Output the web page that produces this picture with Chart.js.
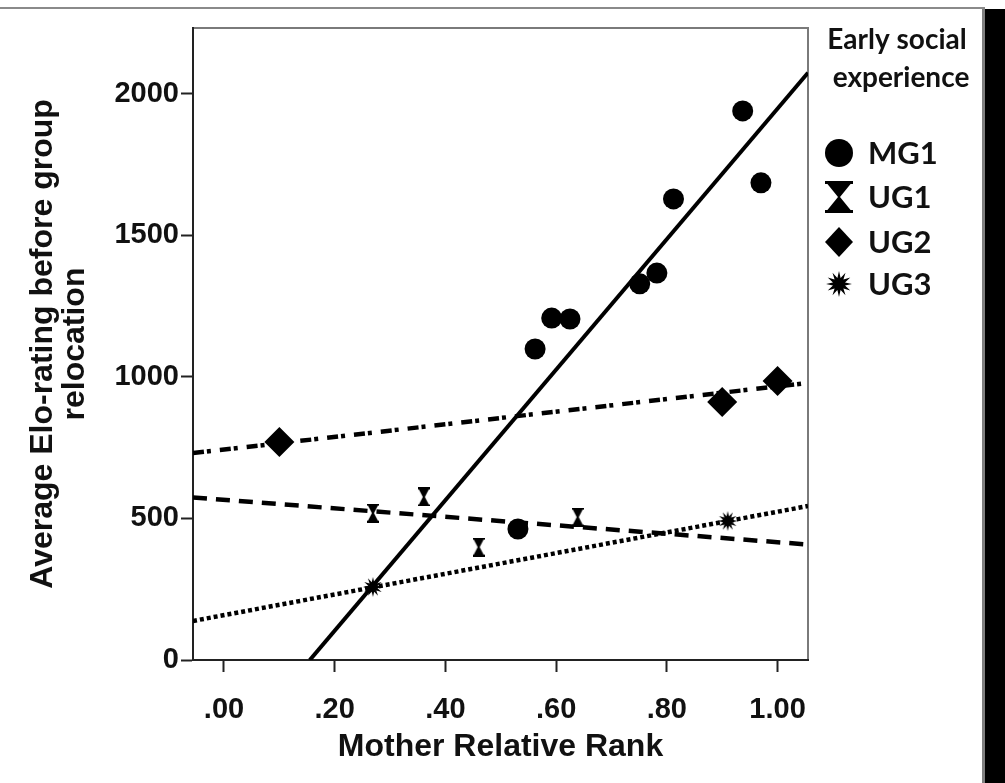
<!DOCTYPE html>
<html><head><meta charset="utf-8">
<script src="https://cdn.jsdelivr.net/npm/chart.js@4.4.1/dist/chart.umd.min.js"></script>
<style>
html,body{margin:0;padding:0;background:#fff;}
#wrap{position:relative;width:1005px;height:783px;overflow:hidden;background:#fff;}
#c{position:absolute;left:0;top:0;}
.topline{position:absolute;left:0;top:7px;width:985px;height:2px;background:#8a8a8a;}
.rightgray{position:absolute;left:982px;top:9px;width:3px;height:774px;background:#808080;}
.rightblack{position:absolute;left:985px;top:9px;width:20px;height:774px;background:#000;}
</style></head><body>
<div id="wrap"><canvas id="c" width="1005" height="783"></canvas><div class="topline"></div><div class="rightgray"></div><div class="rightblack"></div></div>
<script>
// ---- data ----
const groups = ['MG1', 'UG1', 'UG2', 'UG3'];
const legendTitle = ['Early social', 'experience'];
const xTitle = 'Mother Relative Rank';
const yTitle = ['Average Elo-rating before group', 'relocation'];

const mg1X = [0.531, 0.562, 0.592, 0.625, 0.751, 0.782, 0.812, 0.937, 0.970];
const mg1Y = [463, 1099, 1208, 1205, 1329, 1367, 1629, 1940, 1686];
const ug1X = [0.269, 0.361, 0.460, 0.639];
const ug1Y = [519, 576, 399, 505];
const ug2X = [0.10, 0.90, 1.00];
const ug2Y = [770, 912, 986];
const ug3X = [0.269, 0.910];
const ug3Y = [258, 491];

// fit lines: endpoints
const mg1FitX = [0.155, 1.055];
const mg1FitY = [0, 2075];
const ug1FitX = [-0.056, 1.055];
const ug1FitY = [574, 408];
const ug2FitX = [-0.056, 1.055];
const ug2FitY = [731, 979];
const ug3FitX = [-0.056, 1.055];
const ug3FitY = [138, 544];

const xTicks = [0, 0.2, 0.4, 0.6, 0.8, 1.0];
const xTickLabels = ['.00', '.20', '.40', '.60', '.80', '1.00'];
const yTicks = [0, 500, 1000, 1500, 2000];
const yTickLabels = ['0', '500', '1000', '1500', '2000'];
const xMin = -0.056, xMax = 1.055, yMin = 0, yMax = 2233;

// ---- helpers ----
const pts = (xs, ys) => xs.map((x, i) => ({x: x, y: ys[i]}));

function hourglass(w, h) {
  const c = document.createElement('canvas');
  c.width = w; c.height = h;
  const g = c.getContext('2d');
  g.fillStyle = '#000';
  const b = Math.max(2, Math.round(h * 0.1));
  g.fillRect(0, 0, w, b);
  g.fillRect(0, h - b, w, b);
  g.beginPath();
  g.moveTo(0, 0); g.lineTo(w, 0); g.lineTo(w / 2 + 1, h / 2);
  g.lineTo(w, h); g.lineTo(0, h); g.lineTo(w / 2 - 1, h / 2);
  g.closePath(); g.fill();
  return c;
}
function burst(d, n) {
  const c = document.createElement('canvas');
  c.width = d; c.height = d;
  const g = c.getContext('2d');
  g.fillStyle = '#000';
  const cx = d / 2, ro = d / 2, ri = d * 0.24;
  g.beginPath();
  for (let k = 0; k < n * 2; k++) {
    const a = -Math.PI / 2 + k * Math.PI / n;
    const r = k % 2 === 0 ? ro : ri;
    const px = cx + r * Math.cos(a), py = cx + r * Math.sin(a);
    if (k === 0) g.moveTo(px, py); else g.lineTo(px, py);
  }
  g.closePath(); g.fill();
  return c;
}

const hgPlot = hourglass(12, 19);
const starPlot = burst(20, 12);
const hgLeg = hourglass(28, 32);
const starLeg = burst(26, 12);

const FONT = "'Liberation Sans', Arial, sans-serif";
const LFONT = "Lato, 'Open Sans', sans-serif";

const framePlugin = {
  id: 'frame',
  beforeDraw(chart) {
    const {ctx, chartArea: a} = chart;
    ctx.save();
    ctx.strokeStyle = '#7a7a7a';
    ctx.lineWidth = 2;
    ctx.beginPath();
    ctx.moveTo(a.left, a.top);
    ctx.lineTo(a.right, a.top);
    ctx.lineTo(a.right, a.bottom);
    ctx.stroke();
    ctx.restore();
  }
};

const legendPlugin = {
  id: 'customLegend',
  afterDraw(chart) {
    const ctx = chart.ctx;
    ctx.save();
    ctx.fillStyle = '#111';
    ctx.textAlign = 'center';
    ctx.textBaseline = 'middle';
    ctx.font = 'bold 28px ' + LFONT;
    ctx.fillText(legendTitle[0], 897, 40);
    ctx.fillText(legendTitle[1], 901, 78);
    const sx = 839;
    const ys = [153, 197, 242, 284];
    groups.forEach((name, i) => {
      const y = ys[i];
      ctx.fillStyle = '#000';
      if (i === 0) {
        ctx.beginPath(); ctx.arc(sx, y, 14, 0, Math.PI * 2); ctx.fill();
      } else if (i === 1) {
        ctx.drawImage(hgLeg, sx - 14, y - 16);
      } else if (i === 2) {
        ctx.beginPath();
        ctx.moveTo(sx - 14, y); ctx.lineTo(sx, y - 15); ctx.lineTo(sx + 14, y); ctx.lineTo(sx, y + 15);
        ctx.closePath(); ctx.fill();
      } else {
        ctx.drawImage(starLeg, sx - 13, y - 13);
      }
      ctx.fillStyle = '#111';
      ctx.textAlign = 'left';
      ctx.font = 'bold 31px ' + LFONT;
      ctx.fillText(name, 868, y + 1);
    });
    ctx.restore();
  }
};

const pointCommon = {type: 'scatter', backgroundColor: '#000', borderColor: '#000', borderWidth: 0, order: 0};
const lineCommon = {type: 'line', borderColor: '#000', borderWidth: 4.5, pointRadius: 0, fill: false, tension: 0, order: 1, borderCapStyle: 'butt'};

new Chart(document.getElementById('c'), {
  type: 'scatter',
  data: {
    datasets: [
      Object.assign({}, pointCommon, {label: groups[0], data: pts(mg1X, mg1Y), pointStyle: 'circle', pointRadius: 10.5}),
      Object.assign({}, pointCommon, {label: groups[1], data: pts(ug1X, ug1Y), pointStyle: hgPlot, pointRadius: 8}),
      Object.assign({}, pointCommon, {label: groups[2], data: pts(ug2X, ug2Y), pointStyle: 'rectRot', pointRadius: 15}),
      Object.assign({}, pointCommon, {label: groups[3], data: pts(ug3X, ug3Y), pointStyle: starPlot, pointRadius: 9}),
      Object.assign({}, lineCommon, {label: groups[0] + ' fit', data: pts(mg1FitX, mg1FitY), borderWidth: 4}),
      Object.assign({}, lineCommon, {label: groups[1] + ' fit', data: pts(ug1FitX, ug1FitY), borderDash: [14, 9]}),
      Object.assign({}, lineCommon, {label: groups[2] + ' fit', data: pts(ug2FitX, ug2FitY), borderDash: [11, 3, 4, 9]}),
      Object.assign({}, lineCommon, {label: groups[3] + ' fit', data: pts(ug3FitX, ug3FitY), borderDash: [4, 3]})
    ]
  },
  options: {
    responsive: false,
    animation: false,
    events: [],
    layout: {padding: {left: 0, top: 28, right: 197, bottom: 0}},
    plugins: {legend: {display: false}, tooltip: {enabled: false}},
    scales: {
      x: {
        type: 'linear', min: xMin, max: xMax,
        afterBuildTicks: s => { s.ticks = xTicks.map(v => ({value: v})); },
        afterFit: s => { s.height = 123; },
        ticks: {callback: (v, i) => xTickLabels[i], font: {family: FONT, size: 29, weight: 'bold'}, color: '#111', padding: 21, maxRotation: 0, autoSkip: false},
        grid: {drawOnChartArea: false, drawTicks: true, tickLength: 12, tickWidth: 2, tickColor: '#222'},
        border: {display: true, color: '#222', width: 2},
        title: {display: true, text: xTitle, color: '#111', font: {family: FONT, size: 32, weight: 'bold', lineHeight: 1.2}, padding: {top: 0, bottom: 17}}
      },
      y: {
        type: 'linear', min: yMin, max: yMax,
        afterBuildTicks: s => { s.ticks = yTicks.map(v => ({value: v})); },
        afterFit: s => { s.width = 193; },
        ticks: {callback: (v, i) => yTickLabels[i], font: {family: FONT, size: 29, weight: 'bold'}, color: '#111', padding: 2, autoSkip: false},
        grid: {drawOnChartArea: false, drawTicks: true, tickLength: 12, tickWidth: 2, tickColor: '#222'},
        border: {display: true, color: '#222', width: 2},
        title: {display: true, text: yTitle, color: '#111', font: {family: FONT, size: 32, weight: 'bold', lineHeight: 1.0}, padding: {top: 27, bottom: 0}}
      }
    }
  },
  plugins: [framePlugin, legendPlugin]
});
</script>
</body></html>
